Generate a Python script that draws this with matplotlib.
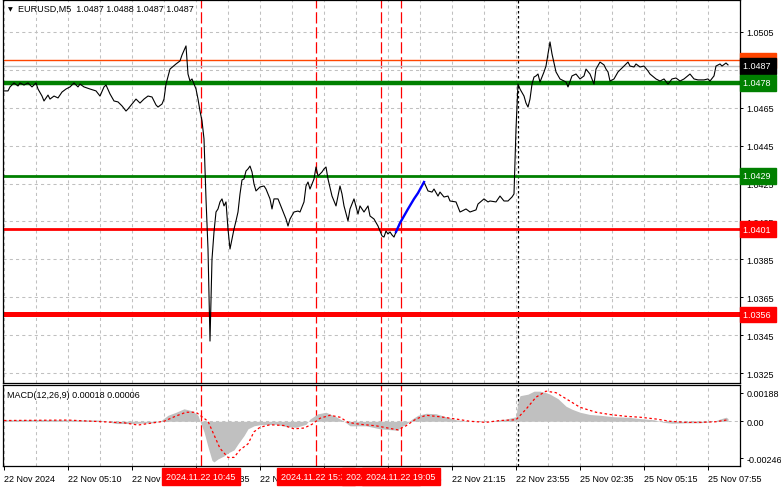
import numpy as np
import matplotlib
matplotlib.use("Agg")
import matplotlib.pyplot as plt
import matplotlib.transforms as mtransforms

plt.rcParams['font.family'] = ['Liberation Sans', 'DejaVu Sans']
plt.rcParams['font.size'] = 6.5

# ---- price path (bar index, close) ----
price_bar = [0, 2, 3, 5, 7, 8, 10, 12, 14, 16, 17, 19, 20, 22, 23, 25, 27, 29, 31, 33,
             35, 37, 38, 40, 43, 46, 48, 50, 51, 53, 55, 57, 59, 61, 62, 64, 66, 68, 70, 72,
             74, 76, 77, 79, 80, 81, 83, 86, 88, 89, 91, 92, 93, 94, 96, 97, 98, 99, 100, 101,
             102, 103, 104, 105, 106, 107, 108, 109, 110, 111, 112, 113, 114, 115, 116, 117, 118, 119, 120, 121,
             122, 123, 124, 125, 126, 128, 130, 131, 133, 134, 135, 137, 139, 141, 142, 143, 145, 147, 148, 150,
             151, 152, 153, 155, 156, 157, 158, 159, 160, 161, 162, 164, 166, 168, 169, 170, 172, 173, 175, 177,
             178, 180, 182, 183, 185, 187, 189, 190, 191, 192, 193, 194, 195, 196]
price_val = [1.04738, 1.04738, 1.04759, 1.04780, 1.04764, 1.04780, 1.04769, 1.04780, 1.04759, 1.04780,
             1.04748, 1.04711, 1.04685, 1.04716, 1.04695, 1.04711, 1.04701, 1.04732, 1.04748, 1.04759,
             1.04780, 1.04759, 1.04774, 1.04759, 1.04748, 1.04738, 1.04711, 1.04759, 1.04769, 1.04722,
             1.04685, 1.04680, 1.04659, 1.04632, 1.04643, 1.04669, 1.04695, 1.04674, 1.04695, 1.04711,
             1.04706, 1.04664, 1.04653, 1.04669, 1.04695, 1.04774, 1.04853, 1.04880, 1.04896, 1.04927,
             1.04975, 1.04827, 1.04790, 1.04801, 1.04748, 1.04695, 1.04632, 1.04580, 1.04485, 1.04169,
             1.03905, 1.03420, 1.03852, 1.03995, 1.04100, 1.04116, 1.04153, 1.04169, 1.04132, 1.04153,
             1.04010, 1.03905, 1.03958, 1.04010, 1.04053, 1.04100, 1.04195, 1.04269, 1.04274, 1.04316,
             1.04327, 1.04342, 1.04311, 1.04248, 1.04211, 1.04232, 1.04237, 1.04221, 1.04169, 1.04116,
             1.04169, 1.04169, 1.04116, 1.04063, 1.04026, 1.04063, 1.04100, 1.04105, 1.04100, 1.04153,
             1.04237, 1.04258, 1.04221, 1.04274, 1.04337, 1.04290, 1.04300, 1.04311, 1.04327, 1.04337,
             1.04274, 1.04184, 1.04132, 1.04237, 1.04195, 1.04132, 1.04053, 1.04116, 1.04169, 1.04089,
             1.04132, 1.04100, 1.04132, 1.04079, 1.04063, 1.04026, 1.03974, 1.03968, 1.04000, 1.03984,
             1.03995, 1.03979, 1.03968, 1.03995]

# highlighted rally (blue)
blue_bar = [196, 198, 200, 202, 205, 207, 210]
blue_val = [1.03995, 1.04042, 1.04079, 1.04116, 1.04169, 1.04200, 1.04258]

after_bar = [210, 212, 214, 215, 217, 218, 220, 222, 223, 226, 228, 229, 231, 233, 236, 237, 240, 242, 243, 246,
             248, 250, 252, 254, 255, 256, 257, 258, 260, 261, 262, 263, 264, 265, 266, 267, 268, 270, 271, 272,
             273, 274, 276, 278, 281, 282, 284, 286, 288, 290, 291, 293, 295, 296, 298, 300, 301, 302, 303, 305,
             307, 310, 312, 313, 315, 316, 318, 320, 322, 323, 326, 328, 330, 332, 334, 336, 338, 340, 343, 345,
             347, 350, 352, 353, 355, 356, 358, 359, 361, 362]
after_val = [1.04258, 1.04211, 1.04205, 1.04221, 1.04184, 1.04205, 1.04179, 1.04184, 1.04158, 1.04153,
             1.04100, 1.04105, 1.04116, 1.04100, 1.04111, 1.04142, 1.04169, 1.04153, 1.04158, 1.04153,
             1.04184, 1.04158, 1.04158, 1.04179, 1.04195, 1.04537, 1.04774, 1.04748, 1.04711, 1.04674,
             1.04653, 1.04695, 1.04774, 1.04811, 1.04817, 1.04827, 1.04785, 1.04838, 1.04869, 1.04933,
             1.04996, 1.04933, 1.04838, 1.04801, 1.04785, 1.04759, 1.04817, 1.04827, 1.04801, 1.04817,
             1.04853, 1.04827, 1.04774, 1.04853, 1.04890, 1.04875, 1.04853, 1.04838, 1.04790, 1.04801,
             1.04838, 1.04869, 1.04890, 1.04869, 1.04864, 1.04880, 1.04864, 1.04869, 1.04843, 1.04827,
             1.04801, 1.04790, 1.04801, 1.04774, 1.04801, 1.04806, 1.04790, 1.04801, 1.04827, 1.04801,
             1.04796, 1.04796, 1.04801, 1.04790, 1.04817, 1.04869, 1.04880, 1.04869, 1.04885, 1.04875]

# ---- MACD(12,26,9) ----
hist_bar = [0, 18, 32, 48, 56, 63, 74, 78, 82, 86, 90, 94, 97, 98, 100, 102, 104, 105, 107, 110,
            112, 115, 117, 120, 122, 125, 128, 136, 141, 146, 151, 153, 157, 161, 166, 170, 173, 181, 188, 197,
            198, 201, 204, 207, 211, 216, 221, 226, 233, 243, 251, 256, 257, 258, 262, 265, 268, 271, 273, 277,
            281, 284, 288, 293, 298, 305, 312, 318, 325, 330, 334, 341, 348, 355, 358, 361, 362]
hist_val = [0.0001, 0.00012, 0.0001, 0.00008, -0.00015, -0.00015, -0.0001, 0.0, 0.0004, 0.0006,
            0.00083, 0.0007, 0.0004, 0.0, -0.0007, -0.0017, -0.0026, -0.0027, -0.0025, -0.0023,
            -0.0021, -0.0019, -0.0015, -0.00095, -0.0005, -0.0003, -0.00023, -0.0002, -0.00035, -0.0004,
            -0.0002, 0.00015, 0.0005, 0.0006, 0.0003, 0.0, -0.0003, -0.0003, -0.0005, -0.0006,
            -0.0004, -0.0002, 0.00015, 0.0004, 0.00053, 0.0005, 0.0003, 0.0001, 0.0, 0.0,
            0.00015, 0.0003, 0.0013, 0.0017, 0.0018, 0.0020, 0.0020, 0.0019, 0.0018, 0.0015,
            0.0010, 0.0008, 0.0006, 0.00045, 0.0004, 0.0003, 0.00027, 0.00018, 0.0001, -0.00007,
            -0.00013, -0.0001, -0.0001, 0.0, 0.00015, 0.00027, 0.00018]
sig_bar = [0, 32, 60, 67, 80, 86, 91, 96, 98, 102, 105, 108, 112, 115, 118, 122, 125, 128, 133, 140,
           145, 150, 154, 158, 163, 168, 172, 178, 186, 194, 197, 201, 206, 211, 218, 226, 233, 241, 248, 256,
           261, 266, 271, 276, 281, 288, 296, 303, 311, 318, 326, 333, 341, 348, 356, 362]
sig_val = [0.00005, 0.00008, -0.0001, -0.00025, 0.0, 0.00035, 0.0006, 0.0006, 0.0004, 0.0,
           -0.0009, -0.0018, -0.0024, -0.0024, -0.0019, -0.0015, -0.0007, -0.0004, -0.00023, -0.00028,
           -0.0005, -0.00045, -0.0002, 0.0002, 0.0004, 0.00027, -0.00007, -0.0002, -0.0003, -0.0005,
           -0.00057, -0.0003, 0.00015, 0.0004, 0.0003, 0.00015, 0.0, -0.00007, 0.00005, 0.0001,
           0.0008, 0.0016, 0.0020, 0.0019, 0.0015, 0.00093, 0.0006, 0.00045, 0.00033, 0.00027,
           0.00015, 0.0, -0.00007, -0.00007, -0.00003, 0.0001]

# ---- levels and labels ----
level_prices = [1.0490, 1.0478, 1.0429, 1.0401, 1.0356]
level_colors = ['#FF4500', '#008000', '#008000', '#FF0000', '#FF0000']
level_widths = [1.0, 3.2, 2.0, 2.0, 3.6]
bid_price = 1.0487

price_ticks = [1.0325, 1.0345, 1.0365, 1.0385, 1.0405, 1.0425, 1.0445, 1.0465, 1.0485, 1.0505]
macd_ticks = [-0.00246, 0.0, 0.00188]
macd_tick_labels = ['-0.00246', '0.00', '0.00188']

time_ticks = [0, 32, 64, 96, 128, 160, 192, 224, 256, 288, 320, 352]
time_labels = ['22 Nov 2024', '22 Nov 05:10', '22 Nov 07:50', '22 Nov 10:35', '22 Nov 13:15',
               '22 Nov 15:55', '22 Nov 18:35', '22 Nov 21:15', '22 Nov 23:55', '25 Nov 02:35',
               '25 Nov 05:15', '25 Nov 07:55']

event_bars = [98.5, 156, 188.5, 198.5]
event_labels = ['2024.11.22 10:45', '2024.11.22 15:35', '2024.11.22 18:15', '2024.11.22 19:05']
separator_bar = 257

W, H = 781, 489
fig = plt.figure(figsize=(W / 100, H / 100), dpi=100)
ax = fig.add_axes([3 / W, (H - 384) / H, 737 / W, 383 / H])
axm = fig.add_axes([3 / W, (H - 467) / H, 737 / W, 81 / H], sharex=ax)

grid_kw = dict(color='#C0C0C0', lw=0.75, ls=(0, (3, 3)), zorder=0)
for a in (ax, axm):
    for b in range(0, 369, 16):
        a.axvline(b, **grid_kw)
    for e in event_bars:
        a.axvline(e, color='#FF0000', lw=0.9, ls=(0, (9, 3)), zorder=1)
    a.axvline(separator_bar, color='black', lw=0.9, ls=(0, (2, 2)), zorder=1)
for p in price_ticks:
    ax.axhline(p, **grid_kw)
axm.axhline(0, **grid_kw)

# price lines
ax.axhline(bid_price, color='#C0C0C0', lw=1.0, zorder=2)
for p, c, w in zip(level_prices, level_colors, level_widths):
    ax.axhline(p, color=c, lw=w, zorder=2)

ax.plot(price_bar, price_val, color='black', lw=0.8, zorder=3)
ax.plot(after_bar, after_val, color='black', lw=0.8, zorder=3)
ax.plot(blue_bar, blue_val, color='#0000FF', lw=1.7, zorder=4)

ax.set_xlim(-0.5, 368)
ax.set_ylim(1.03199, 1.05217)
axm.set_ylim(-0.00297, 0.00241)

# MACD
axm.fill_between(hist_bar, 0, hist_val, color='#C0C0C0', lw=0, zorder=2)
axm.plot(sig_bar, sig_val, color='#FF0000', lw=0.9, ls=(0, (2, 2)), zorder=3)

for a in (ax, axm):
    for s in a.spines.values():
        s.set_color('black')
        s.set_linewidth(0.9)
    a.yaxis.tick_right()
    a.tick_params(axis='y', length=2.5, width=0.7, pad=2, labelsize=6.5)

ax.set_yticks(price_ticks)
ax.set_yticklabels(['%.4f' % p for p in price_ticks])
ax.tick_params(axis='x', bottom=False, labelbottom=False)
axm.set_yticks(macd_ticks)
axm.set_yticklabels(macd_tick_labels)
axm.set_xticks(time_ticks)
axm.set_xticklabels(time_labels, ha='left')
axm.tick_params(axis='x', length=3, width=0.7, pad=2.5, labelsize=6.5)

# right-hand price tags
tr = mtransforms.blended_transform_factory(ax.transAxes, ax.transData)
tags = [(1.0490, '#FF4500'), (1.0487, 'black'), (1.0478, '#008000'),
        (1.0429, '#008000'), (1.0401, '#FF0000'), (1.0356, '#FF0000')]
for i, (p, c) in enumerate(tags):
    ax.text(1.004, p, '%.4f' % p + ' ', transform=tr, ha='left', va='center', color='white',
            fontsize=6.5, zorder=10 + i,
            bbox=dict(boxstyle='square,pad=0.35', fc=c, ec=c))

# time tags under the vertical lines
trm = mtransforms.blended_transform_factory(axm.transData, axm.transAxes)
for e, lab in zip(event_bars, event_labels):
    axm.text(e, -0.125, lab, transform=trm, ha='center', va='center', color='white',
             fontsize=6.5, zorder=10,
             bbox=dict(boxstyle='square,pad=0.45', fc='#FF0000', ec='#FF0000'))

ax.text(0.0095, 0.977, '\u25BC', transform=ax.transAxes, fontsize=4.5, va='center',
        ha='center', family=['DejaVu Sans'])
ax.text(0.0204, 0.977, 'EURUSD,M5  1.0487 1.0488 1.0487 1.0487', transform=ax.transAxes,
        va='center', ha='left', fontsize=6.5)
axm.text(0.0054, 0.88, 'MACD(12,26,9) 0.00018 0.00006', transform=axm.transAxes,
         va='center', ha='left', fontsize=6.5)

fig.savefig('out.png', dpi=100)
